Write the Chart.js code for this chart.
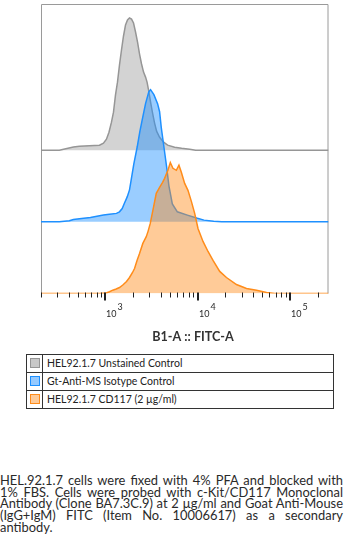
<!DOCTYPE html>
<html>
<head>
<meta charset="utf-8">
<script src="https://cdn.jsdelivr.net/npm/chart.js@4.4.1/dist/chart.umd.min.js"></script>
<style>
  html, body { margin: 0; padding: 0; background: #fff; }
  body { width: 344px; height: 540px; position: relative; overflow: hidden; font-family: Lato, "Open Sans", sans-serif; color: #2a2a2a; }
  #wrap { position: absolute; left: 0; top: 0; width: 344px; height: 345px; }
  #legend { position: absolute; left: 26px; top: 354px; width: 308px; border-collapse: collapse; border: 1px solid #333; font: 10.5px Lato, sans-serif; color: #222; }
  #legend td { border: 1px solid #333; height: 17px; padding: 0; line-height: 17px; }
  #legend td.sw { width: 15px; text-align: center; }
  #legend td.txt { padding-left: 4px; }
  #legend .box { display: inline-block; width: 8px; height: 8px; vertical-align: middle; margin-top: -2px; }
  #caption { position: absolute; left: 0; top: 475px; width: 343px; font-size: 12.9px; line-height: 11.7px; text-align: justify; color: #2a2a2a; }
</style>
</head>
<body>
<div id="wrap"><canvas id="histo" width="344" height="345"></canvas></div>
<table id="legend"></table>
<div id="caption">HEL.92.1.7 cells were fixed with 4% PFA and blocked with 1% FBS. Cells were probed with c-Kit/CD117 Monoclonal Antibody (Clone BA7.3C.9) at 2 µg/ml and Goat Anti-Mouse (IgG+IgM) FITC (Item No. 10006617) as a secondary antibody.</div>
<script>
// histogram data: FITC intensity vs % of mode
const grayFitc = [200, 316, 449, 522, 670, 861, 951, 1025, 1092, 1162, 1222, 1284, 1350, 1419, 1492, 1569, 1650, 1734, 1823, 1917, 2015, 2119, 2228, 2342, 2462, 2588, 2721, 2825, 2934, 3084, 3243, 3409, 3584, 3864, 4270, 4720, 5623, 6700, 8185, 9510, 262144];
const grayPct = [0, 0, 2.5, 3, 3.4, 3.8, 5.3, 8.3, 13.6, 21.2, 28.8, 41.7, 51.5, 64.4, 75.8, 86.4, 94.7, 98.5, 100, 99.2, 96.2, 89.4, 81.8, 72.7, 65.2, 59.1, 55.3, 51.5, 45.5, 36.4, 28, 20.5, 14.4, 9.8, 6.1, 3.8, 2.3, 1.5, 0.8, 0, 0];

const blueFitc = [200, 316, 406, 449, 522, 687, 951, 1105, 1317, 1419, 1519, 1609, 1721, 1823, 1893, 2031, 2211, 2359, 2506, 2721, 2956, 3084, 3350, 3675, 3864, 4032, 4302, 4603, 4876, 5309, 6017, 7727, 9925, 11710, 14920, 18230, 262144];
const bluePct = [0, 0, 0.8, 1.8, 2.3, 3.3, 5.1, 5.7, 6.4, 7.6, 10.1, 14.2, 18.9, 24.2, 31, 43.9, 56.8, 68.2, 77.3, 89.4, 98.5, 100, 96.2, 89.4, 83.3, 71.2, 56.8, 41.7, 27.3, 13.6, 7.6, 5.1, 2.7, 1.3, 0.5, 0, 0];

const orangeFitc = [200, 861, 1018, 1105, 1200, 1307, 1419, 1542, 1692, 1823, 1966, 2067, 2200, 2342, 2543, 2770, 2897, 3061, 3268, 3557, 3864, 4165, 4378, 4756, 5050, 5390, 5870, 6262, 6650, 7224, 7847, 8542, 9277, 10080, 11420, 12940, 14670, 17340, 20510, 26340, 33830, 43450, 55800, 68710, 262144];
const orangePct = [0, 0, 0.4, 1.3, 2.5, 3.4, 4.5, 6.4, 9.1, 12.1, 15.9, 18.9, 25, 30.3, 37.9, 43, 47, 53, 62.9, 75.8, 80.3, 84.1, 87.1, 93.2, 99, 94.7, 93.2, 97, 91.7, 83.3, 78, 69.7, 60.6, 49.2, 39.4, 31.8, 25, 16.7, 12.1, 6.8, 3.8, 2.5, 0.8, 0, 0];

const seriesNames = ["HEL92.1.7 Unstained Control", "Gt-Anti-MS Isotype Control", "HEL92.1.7 CD117 (2 µg/ml)"];

// axis
const majorTicks = [1000, 10000, 100000];
const majorExp = ["3", "4", "5"];
const minorTicks = [200, 300, 400, 500, 600, 700, 800, 900, 2000, 3000, 4000, 5000, 6000, 7000, 8000, 9000, 20000, 30000, 40000, 50000, 60000, 70000, 80000, 90000, 200000];
const axisTitle = "B1-A :: FITC-A";

// each histogram sits this far (in % of mode) above the next one
const STEP = 54.2;

function toPoints(xs, ys, base){
  return xs.map((x, i) => ({ x: x, y: base + ys[i] }));
}

function makeSet(label, xs, ys, base, line, fill, swatch, order){
  return {
    label: label,
    data: toPoints(xs, ys, base),
    borderColor: line,
    backgroundColor: fill,
    swatch: swatch,
    borderWidth: 1.5,
    pointRadius: 0,
    tension: 0,
    fill: { value: base },
    order: order
  };
}

// frame, ticks, tick labels and axis title
const axisPlugin = {
  id: "flowAxis",
  beforeDatasetsDraw(chart){
    const a = chart.chartArea, ctx = chart.ctx;
    ctx.save();
    ctx.strokeStyle = "#9a9a9a";
    ctx.lineWidth = 1;
    ctx.beginPath();
    ctx.moveTo(a.left + 0.5, a.bottom);
    ctx.lineTo(a.left + 0.5, a.top + 0.5);
    ctx.lineTo(a.right - 0.5, a.top + 0.5);
    ctx.lineTo(a.right - 0.5, a.bottom);
    ctx.stroke();
    ctx.restore();
  },
  afterDatasetsDraw(chart){
    const a = chart.chartArea, ctx = chart.ctx, xs = chart.scales.x;
    const y0 = a.bottom;
    ctx.save();
    ctx.strokeStyle = "#222";
    minorTicks.forEach(v => {
      const px = Math.round(xs.getPixelForValue(v)) + 0.5;
      ctx.lineWidth = 1;
      ctx.beginPath(); ctx.moveTo(px, y0 - 1); ctx.lineTo(px, y0 + 4); ctx.stroke();
    });
    majorTicks.forEach((v, i) => {
      const px = Math.round(xs.getPixelForValue(v));
      ctx.lineWidth = 2;
      ctx.beginPath(); ctx.moveTo(px, y0 - 1); ctx.lineTo(px, y0 + 7); ctx.stroke();
      ctx.fillStyle = "#2a2a2a";
      ctx.textAlign = "left";
      ctx.textBaseline = "alphabetic";
      ctx.font = "9px Lato";
      ctx.fillText("10", px + 1, 317);
      const w = ctx.measureText("10").width;
      ctx.fillText(majorExp[i], px + 2 + w, 310);
    });
    ctx.font = "bold 12.6px Lato";
    ctx.fillStyle = "#333";
    ctx.textAlign = "center";
    ctx.fillText(axisTitle, 193, 341);
    ctx.restore();
  }
};

const chart = new Chart(document.getElementById("histo"), {
  type: "line",
  data: {
    datasets: [
      makeSet(seriesNames[0], grayFitc, grayPct, STEP * 2, "rgb(150,150,150)", "rgba(128,128,128,0.35)", "rgb(200,200,200)", 3),
      makeSet(seriesNames[1], blueFitc, bluePct, STEP, "rgb(30,144,255)", "rgba(30,144,255,0.45)", "rgb(150,202,255)", 2),
      makeSet(seriesNames[2], orangeFitc, orangePct, 0, "rgb(255,140,26)", "rgba(255,140,26,0.45)", "rgb(255,203,152)", 1)
    ]
  },
  options: {
    responsive: false,
    animation: false,
    devicePixelRatio: 1,
    layout: { padding: { left: 41, top: 4, right: 15.5, bottom: 51.5 } },
    scales: {
      x: { type: "logarithmic", min: 200, max: 262144, display: false },
      y: { type: "linear", min: 0, max: 219, display: false }
    },
    plugins: {
      legend: { display: false },
      tooltip: { enabled: false }
    }
  },
  plugins: [axisPlugin]
});

// html legend from the chart's own datasets
const legendEl = document.getElementById("legend");
chart.data.datasets.forEach(ds => {
  const tr = document.createElement("tr");
  tr.innerHTML = `<td class="sw"><span class="box" style="background:${ds.swatch};border:1px solid ${ds.borderColor}"></span></td><td class="txt">${ds.label}</td>`;
  legendEl.appendChild(tr);
});
</script>
</body>
</html>
